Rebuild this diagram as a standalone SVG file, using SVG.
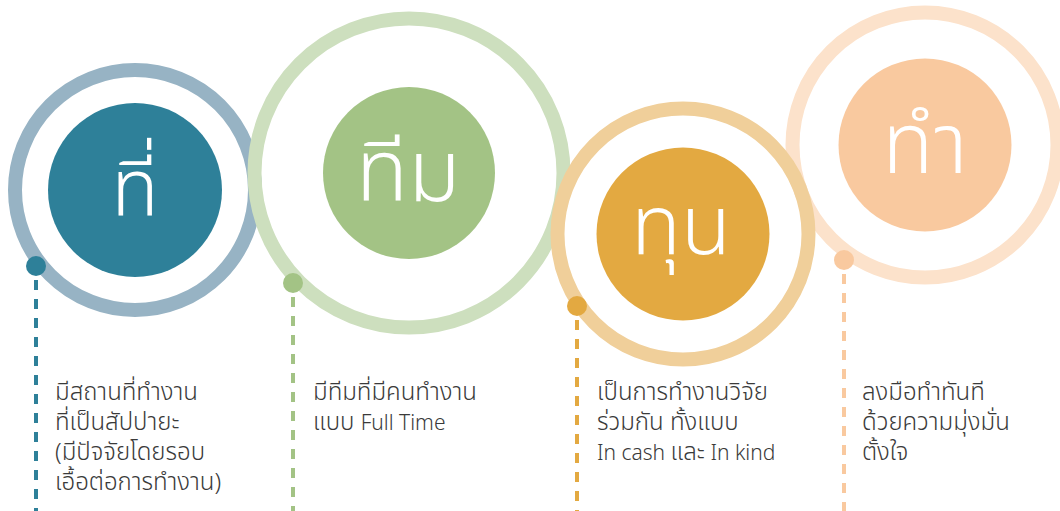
<svg xmlns="http://www.w3.org/2000/svg" width="1060" height="511" viewBox="0 0 1060 511">
<style>
.ring{fill:none;stroke-width:14}
.big{font-family:"Noto Sans Thai","Noto Sans Thai UI","Noto Sans","DejaVu Sans",sans-serif;font-weight:300;fill:#ffffff;text-anchor:middle}
.body{font-family:"Noto Sans Thai","Noto Sans Thai UI","Noto Sans","DejaVu Sans",sans-serif;font-weight:300;font-size:24px;fill:#3a3a3a}
.lat{font-size:21px}
.dash{fill:none;stroke-width:4;stroke-dasharray:10 9}
</style>
<rect width="1060" height="511" fill="#ffffff"/>
<g id="connectors">
<line class="dash" x1="36" y1="280" x2="36" y2="511" stroke="#2E8099"/>
<line class="dash" x1="293" y1="297" x2="293" y2="511" stroke="#A3C385"/>
<line class="dash" x1="577" y1="320" x2="577" y2="511" stroke="#E3A941"/>
<line class="dash" x1="844" y1="274" x2="844" y2="511" stroke="#F9C99F"/>
</g>
<g id="node-place">
<circle class="ring" cx="135" cy="190" r="120" stroke="#97B3C4"/>
<circle cx="135" cy="190" r="87" fill="#2E8099"/>
<text class="big" x="135" y="215" font-size="78">ที่</text>
</g>
<g id="node-team">
<circle class="ring" cx="409" cy="173" r="154.5" stroke="#CDDFBE" stroke-width="13"/>
<circle cx="409" cy="173" r="86" fill="#A3C385"/>
<text class="big" x="408" y="201" font-size="86">ทีม</text>
</g>
<g id="node-do">
<circle class="ring" cx="925" cy="145" r="132.5" stroke="#FCE2CB" stroke-width="13"/>
<circle cx="925" cy="145" r="86.5" fill="#F9C99F"/>
<text class="big" x="925" y="173" font-size="84">ทำ</text>
</g>
<g id="node-fund">
<circle class="ring" cx="683" cy="234" r="125.5" stroke="#F0CF9A" stroke-width="13"/>
<circle cx="683" cy="234" r="86.5" fill="#E3A941"/>
<text class="big" x="681" y="254" font-size="82">ทุน</text>
</g>
<g id="dots">
<circle cx="36" cy="266" r="10" fill="#2E8099"/>
<circle cx="293" cy="283" r="10" fill="#A3C385"/>
<circle cx="577" cy="306" r="10" fill="#E3A941"/>
<circle cx="844" cy="260" r="10" fill="#F9C99F"/>
</g>
<g id="label-place">
<text class="body" x="55" y="400">มีสถานที่ทำงาน</text>
<text class="body" x="55" y="430">ที่เป็นสัปปายะ</text>
<text class="body" x="55" y="460">(มีปัจจัยโดยรอบ</text>
<text class="body" x="55" y="490">เอื้อต่อการทำงาน)</text>
</g>
<g id="label-team">
<text class="body" x="313" y="400">มีทีมที่มีคนทำงาน</text>
<text class="body" x="313" y="430">แบบ <tspan class="lat">Full Time</tspan></text>
</g>
<g id="label-fund">
<text class="body" x="597" y="400">เป็นการทำงานวิจัย</text>
<text class="body" x="597" y="430">ร่วมกัน ทั้งแบบ</text>
<text class="body" x="597" y="460"><tspan class="lat">In cash </tspan>และ<tspan class="lat"> In kind</tspan></text>
</g>
<g id="label-do">
<text class="body" x="862" y="400">ลงมือทำทันที</text>
<text class="body" x="862" y="430">ด้วยความมุ่งมั่น</text>
<text class="body" x="862" y="460">ตั้งใจ</text>
</g>
</svg>
